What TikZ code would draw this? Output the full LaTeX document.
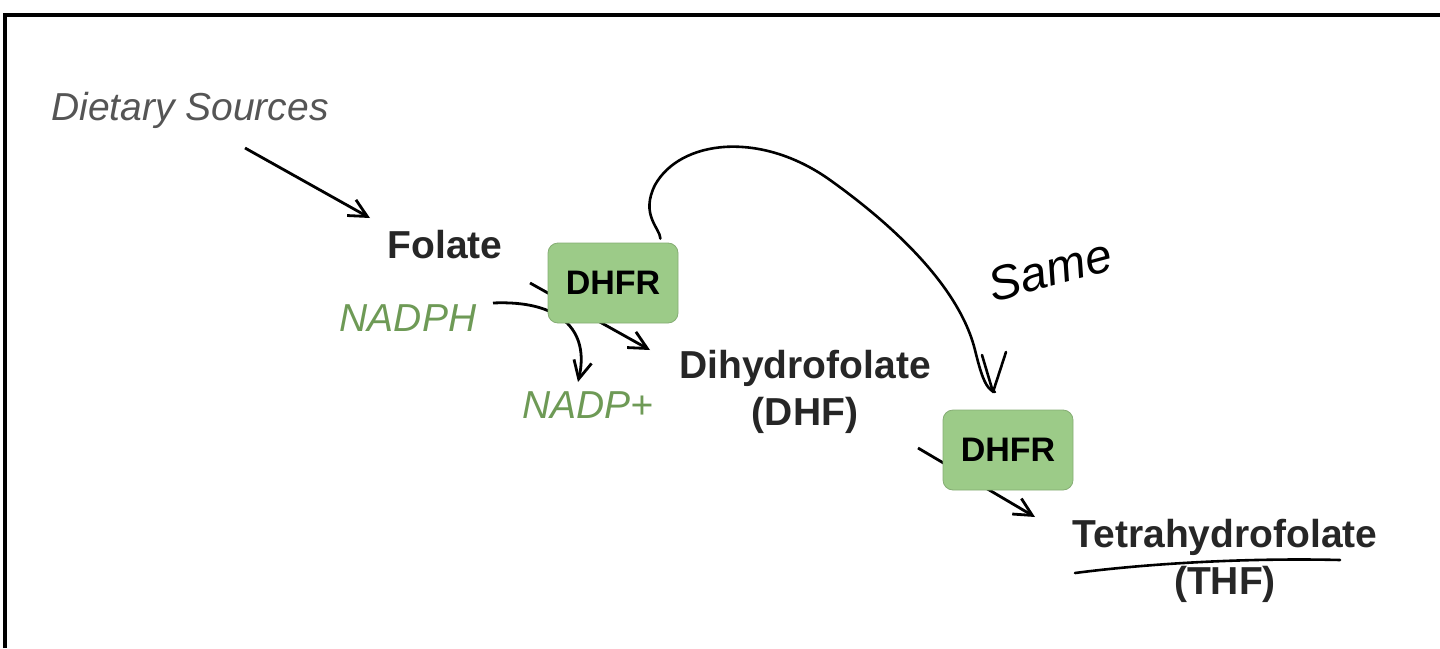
\documentclass[tikz,border=0pt]{standalone}
\usepackage{fontspec}
\setmainfont{Liberation Sans}
\usetikzlibrary{arrows.meta}
\definecolor{boxgreen}{HTML}{9CCB88}
\definecolor{nadgreen}{HTML}{6E9A56}
\definecolor{srcgrey}{HTML}{555555}
\tikzset{
  mol/.style={font=\fontsize{19.5}{23.5}\selectfont\bfseries, text=black!85},
  cof/.style={font=\fontsize{19.5}{23}\selectfont\itshape, text=nadgreen},
  enzyme/.style={draw=boxgreen!85!black, fill=boxgreen, rounded corners=5pt,
    minimum width=65pt, minimum height=40pt, font=\fontsize{17}{19}\selectfont\bfseries},
  react/.style={-{Straight Barb[length=9pt,width=9pt]}, line width=1.4pt},
  pen/.style={line width=1.3pt, line cap=round, line join=round}
}
\begin{document}
\begin{tikzpicture}[x=0.5pt,y=-0.5pt]
  \useasboundingbox (0,0) rectangle (1440,648);
  % frame
  \draw[line width=2pt] (5,648) -- (5,15) -- (1440,15);
  % text nodes
  \node[font=\fontsize{19.5}{23}\selectfont\itshape, text=srcgrey] (src) at (190,110) {Dietary Sources};
  \node[mol] (fol) at (445,245) {Folate};
  \node[cof] (nadph) at (408,318) {NADPH};
  \node[cof] (nadp) at (588,405) {NADP+};
  \node[mol, align=center] (dhf) at (805,392) {Dihydrofolate\\(DHF)};
  \node[mol, align=center] (thf) at (1225,561) {Tetrahydrofolate\\(THF)};
  \coordinate (a1) at (245,148);
  \coordinate (a2) at (370,218);
  \coordinate (b1) at (530,283);
  \coordinate (b2) at (650,350);
  \coordinate (c1) at (918,448);
  \coordinate (c2) at (1035,517);
  % reactions
  \draw[react] (a1) -- (a2);
  \draw[react] (b1) -- (b2);
  \draw[react] (c1) -- (c2);
  \draw[react] (493,303) .. controls (560,300) and (590,330) .. (578,382);
  % enzymes
  \node[enzyme] (e1) at (613,283) {DHFR};
  \node[enzyme] (e2) at (1008,450) {DHFR};
  % handwriting
  \draw[pen] (e1.north east) ++(-18,-4) .. controls (660,228) and (640,215) .. (655,185)
    .. controls (680,140) and (760,130) .. (830,180)
    .. controls (900,230) and (960,290) .. (975,350)
    .. controls (980,370) and (985,390) .. (995,392);
  \draw[pen] (982,355) -- (993,392) -- (1006,352);
  \node[font=\fontsize{24}{24}\selectfont\itshape, rotate=15] (same) at (1050,270) {Same};
  \draw[pen] (1075,573) .. controls (1160,562) and (1260,558) .. (1340,560);
\end{tikzpicture}
\end{document}
